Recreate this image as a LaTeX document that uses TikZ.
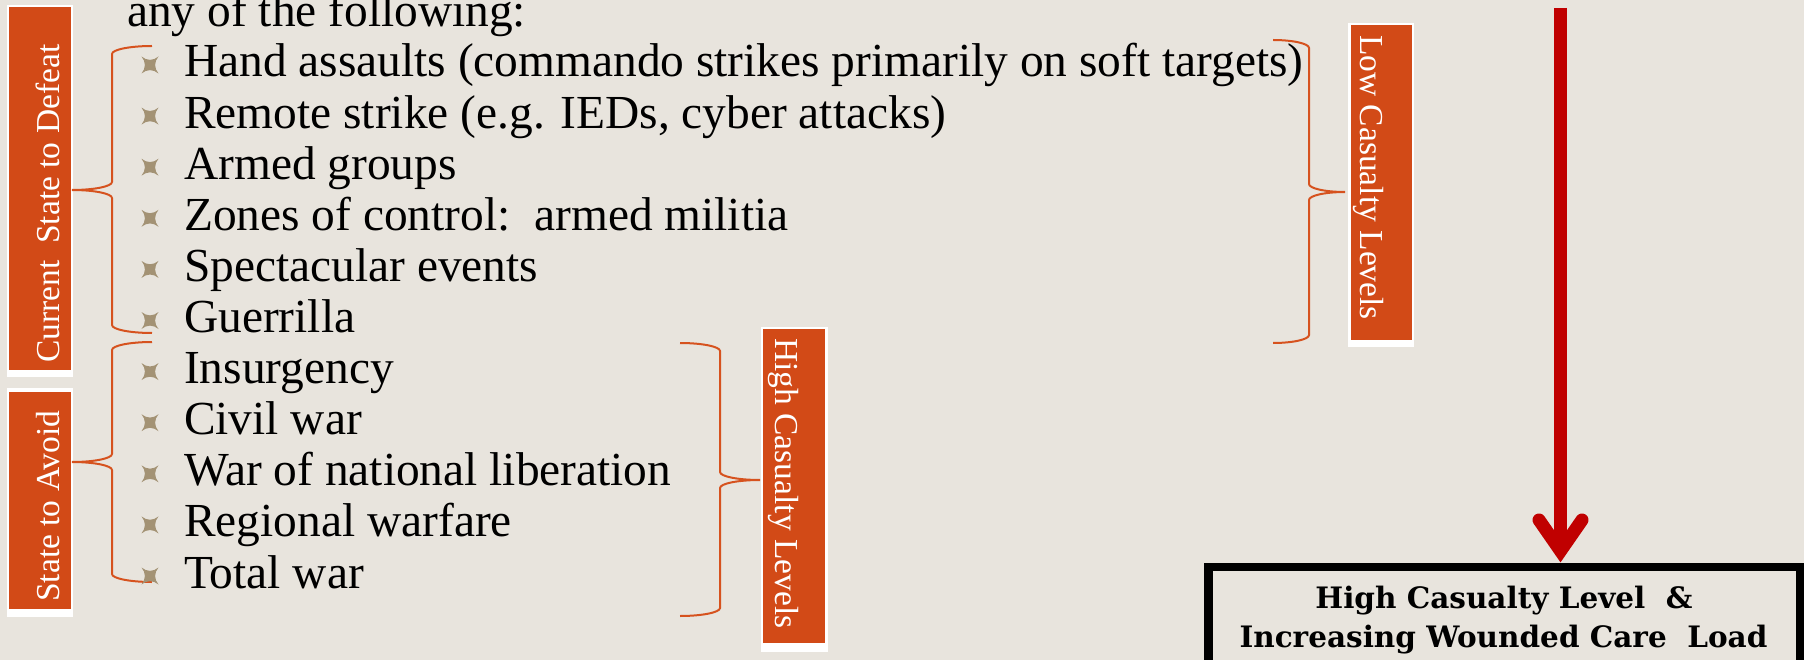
\documentclass[tikz,border=0pt]{standalone}
\usepackage{fontspec}
\setmainfont{Liberation Serif}
\newfontfamily\boxfont{DejaVu Serif}
\definecolor{bgcol}{HTML}{E8E4DD}
\definecolor{tagorange}{HTML}{D24A17}
\definecolor{braceorange}{HTML}{D6521E}
\definecolor{bulletcol}{HTML}{A39274}
\definecolor{arrowred}{HTML}{C00000}
\newcommand{\drawbrace}[5]{% end x, tip x, top y, mid y, bottom y
  \pgfmathsetmacro{\bzS}{(#1+#2)/2}
  \pgfmathsetmacro{\bzA}{#1+0.5523*(\bzS-#1)}
  \pgfmathsetmacro{\bzB}{#2+0.5523*(\bzS-#2)}
  \draw[bracestyle] (#1,#3) .. controls (\bzA,#3) and (\bzS,#3+3.6) .. (\bzS,#3+8)
    -- (\bzS,#4-8) .. controls (\bzS,#4-3.6) and (\bzB,#4) .. (#2,#4)
    .. controls (\bzB,#4) and (\bzS,#4+3.6) .. (\bzS,#4+8)
    -- (\bzS,#5-8) .. controls (\bzS,#5-3.6) and (\bzA,#5) .. (#1,#5);
}
\begin{document}
\begin{tikzpicture}[x=1pt,y=-1pt,
  item/.style={anchor=base west, inner sep=0pt, text=black, font=\fontsize{47.4}{51}\selectfont},
  tag/.style={anchor=base west, inner sep=0pt, text=white, font=\fontsize{33.5}{36}\selectfont},
  boxtext/.style={anchor=base, inner sep=0pt, text=black, font=\boxfont\bfseries\fontsize{29.5}{36}\selectfont},
  bracestyle/.style={draw=braceorange, line width=2pt},
  redshaft/.style={draw=arrowred, line width=13pt, line cap=butt},
  redvee/.style={draw=arrowred, line width=13pt, line cap=round, line join=miter},
  starb/.pic={\fill[bulletcol] (-8.5,-8.5) .. controls (-3,-4) and (3,-4) .. (8.5,-8.5)
      .. controls (4,-3) and (4,3) .. (8.5,8.5)
      .. controls (3,4) and (-3,4) .. (-8.5,8.5)
      .. controls (-4,3) and (-4,-3) .. cycle;}
]
\useasboundingbox (0,0) rectangle (1804,660);
\fill[bgcol] (0,0) rectangle (1804,660);
\clip (0,0) rectangle (1804,660);

% tag frames
\fill[white] (7,5) rectangle (73,377);
\fill[tagorange] (9,7) rectangle (71,370);
\fill[white] (7,388) rectangle (73,617);
\fill[tagorange] (9,392) rectangle (71,609);
\fill[white] (1348,23) rectangle (1414,347);
\fill[tagorange] (1351,25) rectangle (1412,340);
\fill[white] (761,327) rectangle (828,652);
\fill[tagorange] (763,329) rectangle (825,643);

% tag labels
\node[tag, rotate=90] (tcur) at (59,363) {Current\ \ State to Defeat};
\node[tag, rotate=90] (tavoid) at (59,602) {State to Avoid};
\node[tag, rotate=-90] (tlow) at (1360,35) {Low Casualty Levels};
\node[tag, rotate=-90] (thigh) at (775,338) {High Casualty Levels};

% braces
\drawbrace{152}{72}{46}{190}{333}
\drawbrace{152}{72}{342}{462}{582}
\drawbrace{1273}{1345}{40}{192}{343}
\drawbrace{680}{760}{343}{480}{616}

% text
\node[item] (intro) at (127,27) {any of the following:};
\node[item] (i1) at (184,77) {Hand assaults (commando strikes primarily on soft targets)};
\node[item] (i2) at (184,128.1) {Remote strike (e.g. IEDs, cyber attacks)};
\node[item] (i3) at (184,179.2) {Armed groups};
\node[item] (i4) at (184,230.3) {Zones of control:\ \ armed militia};
\node[item] (i5) at (184,281.4) {Spectacular events};
\node[item] (i6) at (184,332.5) {Guerrilla};
\node[item] (i7) at (184,383.6) {Insurgency};
\node[item] (i8) at (184,434.7) {Civil war};
\node[item] (i9) at (184,485.8) {War of national liberation};
\node[item] (i10) at (184,536.9) {Regional warfare};
\node[item] (i11) at (184,588) {Total war};

\foreach \yy in {65,116.1,167.2,218.3,269.4,320.5,371.6,422.7,473.8,524.9,576}
  \path (150,\yy) pic {starb};

% outcome box
\node[draw=black, line width=8.5pt, minimum width=591.5pt, minimum height=148.75pt, inner sep=0pt] (hbox) at (1504,641.6) {};
\node[boxtext] (bt1) at (1504,608) {High Casualty Level\ \ \&};
\node[boxtext] (bt2) at (1503.5,647) {Increasing Wounded Care\ \ Load};

% red arrow
\coordinate (arrtop) at (1560.5,8);
\coordinate (arrtip) at (arrtop |- hbox.north);
\draw[redshaft] (arrtop) -- ([yshift=12pt]arrtip);
\draw[redvee] ([xshift=-21.5pt,yshift=43pt]arrtip) -- ([yshift=12pt]arrtip) -- ([xshift=21.5pt,yshift=43pt]arrtip);
\end{tikzpicture}
\end{document}
